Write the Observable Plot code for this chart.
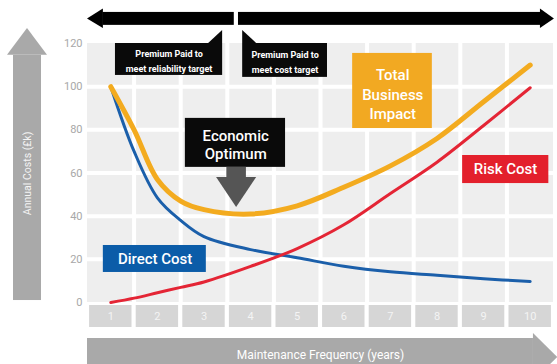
<!DOCTYPE html>
<html>
<head>
<meta charset="utf-8">
<script src="https://cdn.jsdelivr.net/npm/d3@7"></script>
<script src="https://cdn.jsdelivr.net/npm/@observablehq/plot@0.6"></script>
<style>
  html, body { margin: 0; padding: 0; background: #fff; overflow: hidden; }
</style>
</head>
<body>
<div id="chart"></div>
<script>
// ---- data ----
const years       = [1, 1.5, 2, 2.5, 3, 4, 5, 6, 7, 8, 9, 10];
const directCost  = [100, 70, 48.5, 38, 30.5, 24.5, 20.7, 16.8, 14.2, 12.6, 11, 9.7];
const riskCost    = [0, 2, 4.5, 7, 9.5, 16.7, 25, 36, 50.5, 65, 82, 99.5];
const totalImpact = [100, 80, 57, 47, 43, 41, 44.8, 53.4, 63.3, 76, 93, 110];
const tickYears   = [1, 2, 3, 4, 5, 6, 7, 8, 9, 10];
const yTicks      = [0, 20, 40, 60, 80, 100, 120];
const optimumYear = 3.7;

const rows = years.map((x, i) => ({x, direct: directCost[i], risk: riskCost[i], total: totalImpact[i]}));

const FONT = 'Roboto, "Liberation Sans", sans-serif';
const one = [0];

const chart = Plot.plot({
  width: 557,
  height: 364,
  marginLeft: 87,
  marginRight: 4,
  marginTop: 43,
  marginBottom: 37,
  x: {domain: [0.5, 10.5], axis: null},
  y: {domain: [-11.6, 120], axis: null},
  style: {background: "white", fontFamily: FONT, overflow: "hidden"},
  marks: [
    // plot background and grid
    Plot.rect(one, {x1: 0.5, x2: 10.5, y1: 0, y2: 120, fill: "#eeeeee"}),
    Plot.ruleX(d3.range(1.5, 10, 1), {y1: 0, y2: 120, stroke: "white", strokeWidth: 4}),
    Plot.ruleY([20, 40, 60, 80, 100], {x1: 0.5, x2: 10.5, stroke: "white", strokeWidth: 4}),

    // y tick labels
    Plot.axisY({ticks: yTicks, tickSize: 0, tickPadding: 5, label: null, fontSize: 11, color: "#a8a8a8"}),

    // x tick boxes
    Plot.rect(tickYears, {x1: d => d - 0.455, x2: d => d + 0.455, y1: -1.4, y2: -11.6, fill: "#d6d6d6"}),
    Plot.text(tickYears, {x: d => d, y: -6.5, text: d => String(d), fill: "#f4f4f4", fontSize: 11}),

    // bottom axis arrow
    Plot.rect(one, {x1: 0.5, x2: 10.07, y1: -16.7, y2: -36, fill: "#a9a9a9"}),
    Plot.areaX([{y: -14.4, a: 10.07, b: 10.07}, {y: -25.5, a: 10.07, b: 10.59}, {y: -36.6, a: 10.07, b: 10.07}],
      {y: "y", x1: "a", x2: "b", fill: "#a9a9a9"}),
    Plot.text(one, {x: 5.5, y: -24.6, text: ["Maintenance Frequency (years)"], fill: "white", fontSize: 12}),

    // left axis arrow
    Plot.rect(one, {x1: -1.088, x2: -0.487, y1: 0.9, y2: 114.5, fill: "#a9a9a9"}),
    Plot.areaX([{y: 114.5, a: -1.217, b: -0.358}, {y: 127, a: -0.788, b: -0.788}],
      {y: "y", x1: "a", x2: "b", fill: "#a9a9a9"}),
    Plot.text(one, {x: -0.788, y: 59.8, text: ["Annual Costs (£k)"], rotate: -90, fill: "#f4f4f4", fontSize: 10.5}),

    // top double arrow
    Plot.areaY([{x: 0.5, a: 131.4, b: 131.4}, {x: 0.84, a: 127, b: 136}], {x: "x", y1: "a", y2: "b", fill: "#000"}),
    Plot.rect(one, {x1: 0.83, x2: optimumYear - 0.05, y1: 128.4, y2: 134.4, fill: "#000"}),
    Plot.rect(one, {x1: optimumYear + 0.04, x2: 10.23, y1: 128.4, y2: 134.4, fill: "#000"}),
    Plot.areaY([{x: 10.22, a: 127, b: 136}, {x: 10.52, a: 131.4, b: 131.4}], {x: "x", y1: "a", y2: "b", fill: "#000"}),

    // premium callouts
    Plot.rect(one, {x1: 1.10, x2: 3.40, y1: 105.2, y2: 120, fill: "#0a0a0a"}),
    Plot.areaY([{x: 3.10, a: 120, b: 120}, {x: 3.40, a: 120, b: 126}], {x: "x", y1: "a", y2: "b", fill: "#0a0a0a"}),
    Plot.text(one, {x: 2.25, y: 112.6, text: ["Premium Paid to\nmeet reliability target"], fill: "white", fontSize: 9, fontWeight: "bold", lineHeight: 1.7}),
    Plot.rect(one, {x1: 3.83, x2: 5.65, y1: 104.3, y2: 120, fill: "#0a0a0a"}),
    Plot.areaY([{x: 3.83, a: 120, b: 126}, {x: 4.13, a: 120, b: 120}], {x: "x", y1: "a", y2: "b", fill: "#0a0a0a"}),
    Plot.text(one, {x: 4.74, y: 112.1, text: ["Premium Paid to\nmeet cost target"], fill: "white", fontSize: 9, fontWeight: "bold", lineHeight: 1.7}),

    // series lines
    Plot.line(rows, {x: "x", y: "direct", curve: "catmull-rom", stroke: "#1b5faa", strokeWidth: 3}),
    Plot.line(rows, {x: "x", y: "risk", curve: "catmull-rom", stroke: "#e42535", strokeWidth: 3}),
    Plot.line(rows, {x: "x", y: "total", curve: "catmull-rom", stroke: "#f3ab1f", strokeWidth: 5}),

    // economic optimum
    Plot.rect(one, {x1: 2.60, x2: 4.75, y1: 62.6, y2: 85.3, fill: "#0a0a0a"}),
    Plot.text(one, {x: 3.68, y: 73.2, text: ["Economic\nOptimum"], fill: "white", fontSize: 15, fontWeight: 500, lineHeight: 1.2}),
    Plot.rect(one, {x1: optimumYear - 0.21, x2: optimumYear + 0.21, y1: 57.6, y2: 62.6, fill: "#555555"}),
    Plot.areaX([{y: 57.9, a: optimumYear - 0.43, b: optimumYear + 0.43}, {y: 44, a: optimumYear, b: optimumYear}],
      {y: "y", x1: "a", x2: "b", fill: "#555555"}),

    // series labels
    Plot.rect(one, {x1: 6.19, x2: 7.90, y1: 80.6, y2: 115.4, fill: "#f2a922"}),
    Plot.text(one, {x: 7.05, y: 96.8, text: ["Total\nBusiness\nImpact"], fill: "white", fontSize: 15, fontWeight: 500, lineHeight: 1.3}),
    Plot.rect(one, {x1: 8.55, x2: 10.40, y1: 55.1, y2: 68.1, fill: "#e3202c"}),
    Plot.text(one, {x: 9.47, y: 61.6, text: ["Risk Cost"], fill: "white", fontSize: 15, fontWeight: 500}),
    Plot.rect(one, {x1: 0.84, x2: 3.05, y1: 13.9, y2: 26.4, fill: "#0b5ca8"}),
    Plot.text(one, {x: 1.95, y: 20.2, text: ["Direct Cost"], fill: "white", fontSize: 15, fontWeight: 500})
  ]
});
document.getElementById("chart").appendChild(chart);
</script>
</body>
</html>
